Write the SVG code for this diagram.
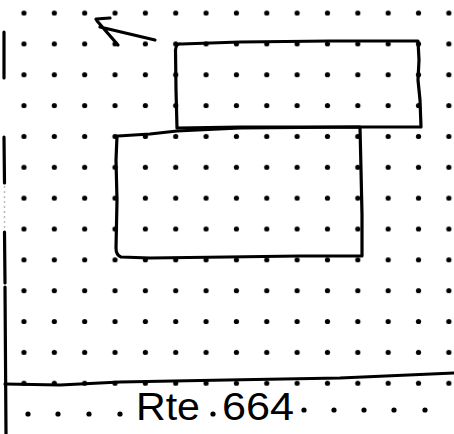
<svg xmlns="http://www.w3.org/2000/svg" width="454" height="434" viewBox="0 0 454 434">
  <style>
    .ink { fill: none; stroke: #000; stroke-width: 3.2; stroke-linecap: round; stroke-linejoin: round; }
    .dot { fill: #000; }
    .label { font-family: "Liberation Sans", "DejaVu Sans", sans-serif; font-size: 38px; fill: #000; }
  </style>
  <defs>
    <pattern id="grid" patternUnits="userSpaceOnUse" x="8.8" y="-2.4" width="30.35" height="30.85">
      <circle cx="15.175" cy="15.425" r="2.6" class="dot"/>
    </pattern>
  </defs>
  <rect width="454" height="434" fill="#fff"/>
  <g id="grid-dots">
    <rect x="0" y="0" width="454" height="399" fill="url(#grid)"/>
    <circle cx="28" cy="414" r="2.6" class="dot"/>
    <circle cx="58" cy="414" r="2.6" class="dot"/>
    <circle cx="89" cy="414" r="2.6" class="dot"/>
    <circle cx="120" cy="414" r="2.6" class="dot"/>
    <circle cx="213" cy="414" r="2.6" class="dot"/>
    <circle cx="304" cy="410" r="2.6" class="dot"/>
    <circle cx="334" cy="410" r="2.6" class="dot"/>
    <circle cx="364" cy="410" r="2.6" class="dot"/>
    <circle cx="394" cy="410" r="2.6" class="dot"/>
    <circle cx="425" cy="410" r="2.6" class="dot"/>
  </g>
  <g id="margin">
    <path class="ink" d="M4,32 L4,78 M4,137 L4.5,183 M4.5,232 L5,283 M5,287 L6,434"/>
    <path d="M4.5,186 L4.5,230" fill="none" stroke="#bbb" stroke-width="1.5" stroke-dasharray="2 3"/>
    <path class="ink" d="M5,384 L60,385 L120,382 L227,380 L340,378 L454,373"/>
  </g>
  <g id="upper-box">
    <path class="ink" d="M177,128 L176,90 L175.5,50 Q176,43 181,44 L240,42 L330,41 L418,41 L419,60 L418,80 L420,100 L421,127 L360,127 L300,127 L240,127 L177,128"/>
  </g>
  <g id="lower-box">
    <path class="ink" d="M118,136 L150,134 L177,131 L240,128 L360,127 L361,170 L362,215 L362,256 L300,256 L227,257 L150,258 L121,257 Q116,255 116,248 L117,200 L116,160 L117,136"/>
  </g>
  <g id="label">
    <text class="label" x="136" y="420" textLength="64" lengthAdjust="spacingAndGlyphs">Rte</text>
    <text class="label" x="222" y="420" textLength="72" lengthAdjust="spacingAndGlyphs">664</text>
  </g>
  <g id="connectors">
    <path class="ink" d="M155,40 L100,27 M118,45 L98,22 L96,19 L110,18"/>
  </g>
</svg>
